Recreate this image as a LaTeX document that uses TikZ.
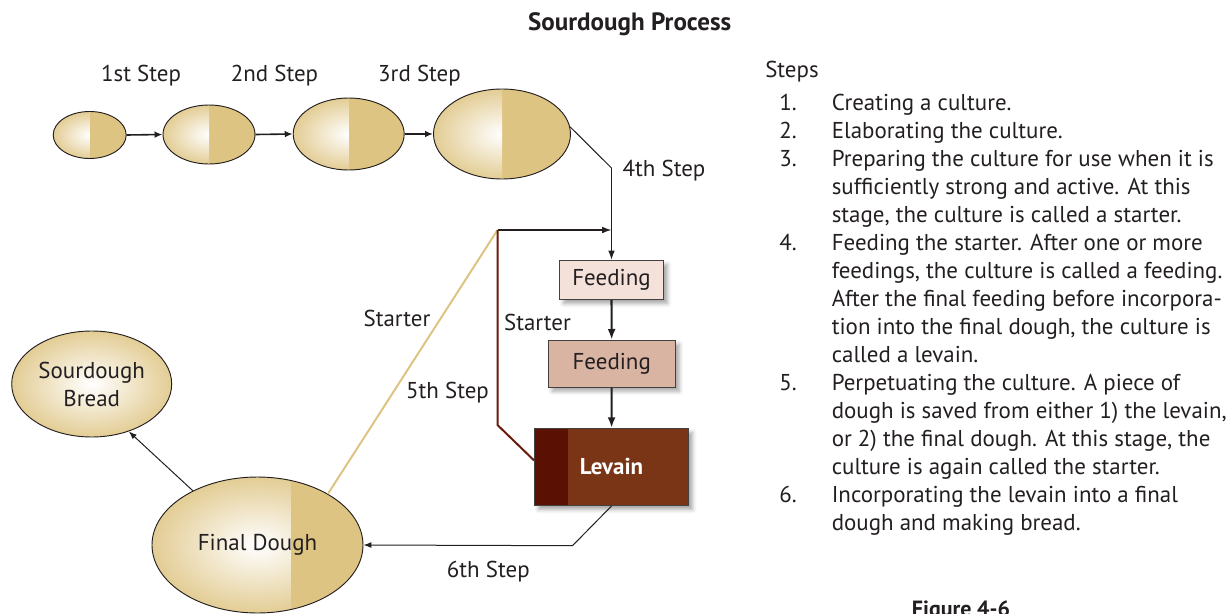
\documentclass[tikz,border=0pt]{standalone}
\usepackage{fontspec}
\setmainfont{PT Sans}
\usetikzlibrary{shapes.geometric,arrows.meta,shadows.blur}
\definecolor{gold}{HTML}{DEC482}
\definecolor{ink}{HTML}{231F20}
\definecolor{feedA}{HTML}{F4E2DA}
\definecolor{feedB}{HTML}{D9B4A3}
\definecolor{levain}{HTML}{7A3516}
\definecolor{levaindark}{HTML}{5A1002}
\definecolor{brownline}{HTML}{6A1A0C}
\begin{document}
\begin{tikzpicture}[x=0.75pt,y=-0.75pt,
  every node/.style={text=ink},
  lbl/.style={font=\fontsize{17.2}{21}\selectfont, inner sep=0pt},
  sz/.style 2 args={minimum width=#1*0.75pt, minimum height=#2*0.75pt},
  dough/.style={ellipse, draw=ink, line width=0.7pt, inner sep=0pt,
    font=\fontsize{17.2}{21}\selectfont,
    path picture={
      \fill[gold] (path picture bounding box.south west) rectangle (path picture bounding box.north east);
      \begin{scope}
        \clip (path picture bounding box.south west) rectangle ([xshift=#1]path picture bounding box.north);
        \shade[inner color=white, outer color=gold!85!white] (path picture bounding box.south west) rectangle (path picture bounding box.north east);
      \end{scope}}},
  dough/.default=0pt,
  box/.style={rectangle, draw=ink!85, line width=0.8pt, inner sep=0pt,
    font=\fontsize{17.2}{21}\selectfont,
    blur shadow={shadow xshift=3pt, shadow yshift=-3pt, shadow blur radius=3pt, shadow opacity=35}},
  toparr/.style={draw=ink, line width=1.2pt, -{Latex[length=6pt,width=5pt]}},
  feedarr/.style={draw=ink, line width=1.6pt, -{Latex[length=8pt,width=6pt]}},
  midarr/.style={draw=ink, line width=1pt, -{Latex[length=7pt,width=5pt]}},
  thinarr/.style={draw=ink, line width=0.75pt, -{Latex[length=6pt,width=4.5pt]}},
  thinln/.style={draw=ink, line width=0.75pt},
  goldln/.style={draw=gold, line width=1.5pt},
  brownln/.style={draw=brownline, line width=1.5pt},
]
\useasboundingbox (0,0) rectangle (1232,614);

% title
\node[font=\fontsize{18.8}{22}\selectfont\bfseries, anchor=base, inner sep=0pt] (title) at (629.7,31) {Sourdough Process};

% top row of cultures
\node[dough, sz={73}{47}] (e1) at (89.7,135) {};
\node[dough, sz={92}{59}] (e2) at (209,134.5) {};
\node[dough, sz={111}{72}] (e3) at (348.7,134) {};
\node[dough, sz={137}{90}] (e4) at (502,134) {};

\node[lbl] (s1) at (141,75.5) {1st Step};
\node[lbl] (s2) at (274.5,75.5) {2nd Step};
\node[lbl] (s3) at (419.5,75.5) {3rd Step};
\node[lbl] (s4) at (664,170.5) {4th Step};

% feeding boxes
\node[box, fill=feedA, sz={104}{39}] (f1) at (611.5,280) {Feeding};
\node[box, fill=feedB, sz={127}{47}] (f2) at (611.7,363.7) {Feeding};
\node[box, fill=levain, sz={154}{77}, text=white, font=\fontsize{17.2}{21}\selectfont\bfseries,
  path picture={\fill[levaindark] (path picture bounding box.south west) rectangle ([xshift=24.75pt]path picture bounding box.north west);}] (lev) at (611.5,467) {Levain};

% final dough and bread
\node[dough=24.75pt, sz={211}{136}] (fd) at (257.5,545) {Final Dough};
\node[dough=200pt, sz={160}{106}, align=center] (sb) at (91.7,384) {Sourdough\\Bread};

% coordinates
\coordinate (c4) at (611.5,168);
\coordinate (j) at (497.5,230);
\coordinate (ja) at (611.5,230);
\coordinate (b1) at (497.5,425);
\coordinate (c6) at (572.5,545.7);

% connectors
\draw[toparr] (e1.east) -- (e2.west);
\draw[toparr] (e2.east) -- (e3.west);
\draw[toparr] (e3.east) -- (e4.west);
\draw[thinln] (e4.6) -- (c4);
\draw[midarr] (c4) -- (f1.north);
\draw[goldln] (fd.36) -- (j);
\draw[brownln] (j) -- (b1) -- ([yshift=5pt]lev.west);
\draw[midarr] (j) -- (ja);
\draw[feedarr] (f1) -- (f2);
\draw[feedarr] (f2) -- (lev);
\draw[thinarr] (lev.south) -- (c6) -- (fd.east);
\draw[thinarr] (fd.140) -- (sb.-52);

\node[lbl] (st1) at (397,318.5) {Starter};
\node[lbl] (st2) at (537.5,322.5) {Starter};
\node[lbl] (st5) at (447.5,392.5) {5th Step};
\node[lbl] (st6) at (488.3,571.5) {6th Step};

% steps list
\node[lbl, anchor=base west] (stepshead) at (765,77) {Steps};
\node[lbl, anchor=base west] (list) at (779,110) {%
\begin{tabular}[t]{@{}p{39.4pt}@{}l@{}}
1. & Creating a culture.\\
2. & Elaborating the culture.\\
3. & Preparing the culture for use when it is\\
   & sufficiently strong and active. At this\\
   & stage, the culture is called a starter.\\
4. & Feeding the starter. After one or more\\
   & feedings, the culture is called a feeding.\\
   & After the final feeding before incorpora-\\
   & tion into the final dough, the culture is\\
   & called a levain.\\
5. & Perpetuating the culture. A piece of\\
   & dough is saved from either 1) the levain,\\
   & or 2) the final dough. At this stage, the\\
   & culture is again called the starter.\\
6. & Incorporating the levain into a final\\
   & dough and making bread.
\end{tabular}};

\node[font=\fontsize{16.5}{19}\selectfont\bfseries, anchor=base, inner sep=0pt] (fig) at (961,616) {Figure 4-6};
\end{tikzpicture}
\end{document}
